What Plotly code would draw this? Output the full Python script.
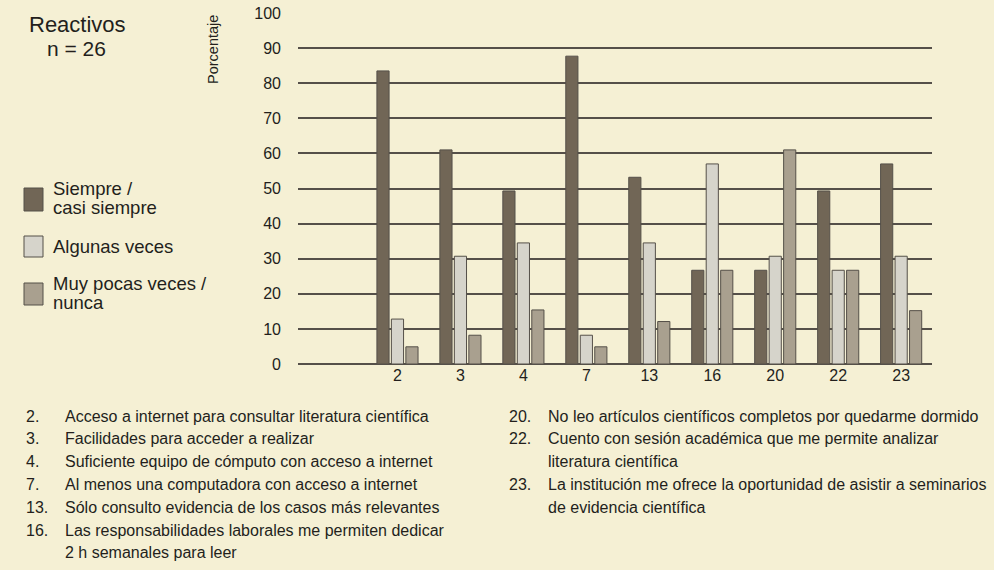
import plotly.graph_objects as go

# ---------------- data ----------------
categories = ["2", "3", "4", "7", "13", "16", "20", "22", "23"]
siempre = [83.5, 61, 49.3, 87.7, 53.2, 26.7, 26.7, 49.3, 57]
algunas = [12.8, 30.7, 34.5, 8.2, 34.5, 57, 30.7, 26.7, 30.7]
pocas = [4.9, 8.2, 15.4, 4.9, 12.1, 26.7, 61, 26.7, 15.2]

series_names = ["Siempre /<br>casi siempre", "Algunas veces", "Muy pocas veces /<br>nunca"]
series_colors = ["#716656", "#d6d4cb", "#a9a08f"]

y_ticks = [0, 10, 20, 30, 40, 50, 60, 70, 80, 90, 100]

items_left = [
    ("2.", "Acceso a internet para consultar literatura científica"),
    ("3.", "Facilidades para acceder a realizar"),
    ("4.", "Suficiente equipo de cómputo con acceso a internet"),
    ("7.", "Al menos una computadora con acceso a internet"),
    ("13.", "Sólo consulto evidencia de los casos más relevantes"),
    ("16.", "Las responsabilidades laborales me permiten dedicar"),
    ("", "2 h semanales para leer"),
]
items_right = [
    ("20.", "No leo artículos científicos completos por quedarme dormido"),
    ("22.", "Cuento con sesión académica que me permite analizar"),
    ("", "literatura científica"),
    ("23.", "La institución me ofrece la oportunidad de asistir a seminarios"),
    ("", "de evidencia científica"),
]

# ---------------- layout geometry ----------------
W, H = 994, 570
L, R, T, B = 298, 62, 13, 206
PW, PH = W - L - R, H - T - B
BG = "#f5f0d4"
FONT = "Liberation Sans, Arial, Helvetica, sans-serif"
TXT = "#231f1c"
EDGE = "#555049"


def px(x):
    return (x - L) / PW


def py(y):
    return (H - B - y) / PH


xs = list(range(len(categories)))

fig = go.Figure()
for vals, name, col in zip([siempre, algunas, pocas], series_names, series_colors):
    fig.add_trace(go.Bar(
        x=xs, y=vals, name=name,
        marker=dict(color=col, line=dict(color=EDGE, width=1)),
        showlegend=False,
    ))

annotations = []
shapes = []

# title block
annotations.append(dict(text="Reactivos", x=px(77), y=py(25), xref="paper", yref="paper",
                        xanchor="center", yanchor="middle", showarrow=False,
                        font=dict(size=22, color=TXT, family=FONT)))
annotations.append(dict(text="n = 26", x=px(76), y=py(48), xref="paper", yref="paper",
                        xanchor="center", yanchor="middle", showarrow=False,
                        font=dict(size=21, color=TXT, family=FONT)))
# y-axis title
annotations.append(dict(text="Porcentaje", x=px(213), y=py(50), xref="paper", yref="paper",
                        xanchor="center", yanchor="middle", showarrow=False, textangle=-90,
                        font=dict(size=14.5, color=TXT, family=FONT)))

# legend (custom swatches)
legend_boxes = [(188, 211), (236, 257), (283, 305)]
legend_lines = [[("Siempre /", 189), ("casi siempre", 207)],
                [("Algunas veces", 246.5)],
                [("Muy pocas veces /", 283.5), ("nunca", 302)]]
for (y0, y1), col, lines in zip(legend_boxes, series_colors, legend_lines):
    shapes.append(dict(type="rect", xref="paper", yref="paper",
                       x0=px(24), x1=px(43), y0=py(y1), y1=py(y0),
                       fillcolor=col, line=dict(color=EDGE, width=1)))
    for txt, yc in lines:
        annotations.append(dict(text=txt, x=px(51), y=py(yc), xref="paper", yref="paper",
                                xanchor="left", yanchor="middle", showarrow=False,
                                font=dict(size=18.5, color=TXT, family=FONT)))

# item descriptions
row0, dy = 416, 22.8
for col_items, xn, xt in [(items_left, 24, 63), (items_right, 507, 546)]:
    for i, (num, txt) in enumerate(col_items):
        yc = row0 + i * dy
        if num:
            annotations.append(dict(text=num, x=px(xn), y=py(yc), xref="paper", yref="paper",
                                    xanchor="left", yanchor="middle", showarrow=False,
                                    font=dict(size=16, color=TXT, family=FONT)))
        annotations.append(dict(text=txt, x=px(xt), y=py(yc), xref="paper", yref="paper",
                                xanchor="left", yanchor="middle", showarrow=False,
                                font=dict(size=16, color=TXT, family=FONT)))

fig.update_layout(
    width=W, height=H,
    margin=dict(l=L, r=R, t=T, b=B, pad=0, autoexpand=False),
    paper_bgcolor=BG, plot_bgcolor=BG,
    barmode="group", bargap=0.31, bargroupgap=0.16,
    font=dict(family=FONT, size=16, color=TXT),
    annotations=annotations, shapes=shapes,
    xaxis=dict(range=[-1.58, 8.49], tickmode="array", tickvals=xs, ticktext=categories,
               showgrid=False, zeroline=False, showline=False, ticks="", automargin=False,
               tickfont=dict(size=16, color=TXT, family=FONT), fixedrange=True),
    yaxis=dict(range=[0, 100], tickmode="array", tickvals=y_ticks,
               showgrid=True, gridcolor=EDGE, gridwidth=1.5,
               zeroline=True, zerolinecolor=EDGE, zerolinewidth=1.5,
               showline=False, ticks="", ticklabelstandoff=16, automargin=False,
               tickfont=dict(size=16, color=TXT, family=FONT), fixedrange=True),
)

fig.write_html("out.html", config={"displayModeBar": False},
               post_script="document.body.style.margin='0';document.body.style.background='%s';" % BG)
